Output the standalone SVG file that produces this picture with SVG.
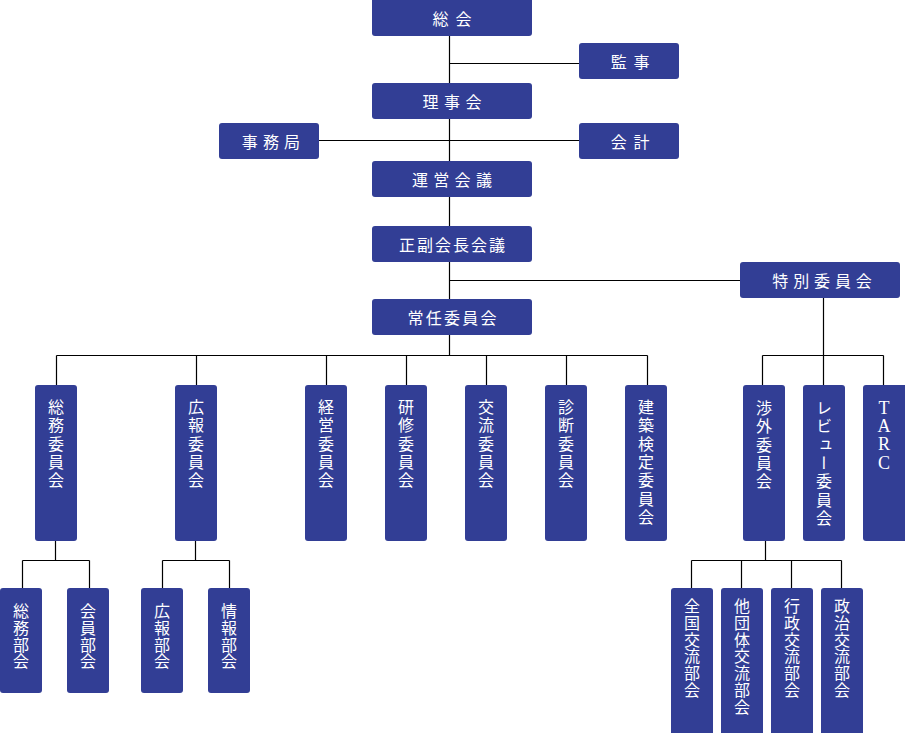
<svg xmlns="http://www.w3.org/2000/svg" width="905" height="733" viewBox="0 0 905 733">
<style>
.box{fill:#323e95}
.h{font-family:"Noto Sans CJK JP","Noto Sans",sans-serif;font-size:16px;fill:#fff;text-anchor:middle;dominant-baseline:central}
.v{font-family:"Noto Sans CJK JP","Noto Sans",sans-serif;font-size:16px;fill:#fff;writing-mode:vertical-rl;letter-spacing:2.3px}
.vs{font-family:"Noto Sans CJK JP","Noto Sans",sans-serif;font-size:16px;fill:#fff;writing-mode:vertical-rl;letter-spacing:0.8px}
.lat{font-family:"Liberation Serif",serif;font-size:18px;fill:#fff;text-anchor:middle}
.ln{fill:none;stroke:#000;stroke-width:1.2}
</style>
<g id="connectors">
<path class="ln" d="M449.5 36V355.5M449.5 63.5H579M319 140.5H579M449.5 280.5H740"/>
<path class="ln" d="M823.5 298V385M762.5 355.5H883.5M762.5 355.5V385M883.5 355.5V385"/>
<path class="ln" d="M56.5 355.5H647.5M56.5 355.5V385M196.5 355.5V385M326.5 355.5V385M406.5 355.5V385M486.5 355.5V385M566.5 355.5V385M647.5 355.5V385"/>
<path class="ln" d="M55.5 541V560.5M22.5 560.5H89.5M22.5 560.5V588M89.5 560.5V588"/>
<path class="ln" d="M195.5 541V560.5M162.5 560.5H229.5M162.5 560.5V588M229.5 560.5V588"/>
<path class="ln" d="M765.5 541V560.5M691.5 560.5H841.5M691.5 560.5V588M741.5 560.5V588M791.5 560.5V588M841.5 560.5V588"/>
</g>
<g id="n-soukai"><rect class="box" x="372" y="-3" width="160" height="39" rx="3"/><text class="h" x="455.5" y="17.5" letter-spacing="7">総会</text></g>
<g id="n-kanji"><rect class="box" x="579" y="43" width="100" height="36" rx="3"/><text class="h" x="633.5" y="61" letter-spacing="6.7">監事</text></g>
<g id="n-rijikai"><rect class="box" x="372" y="83" width="160" height="36" rx="3"/><text class="h" x="454.7" y="101" letter-spacing="5.5">理事会</text></g>
<g id="n-jimukyoku"><rect class="box" x="219" y="123" width="100" height="36" rx="3"/><text class="h" x="273.5" y="141" letter-spacing="5.2">事務局</text></g>
<g id="n-kaikei"><rect class="box" x="579" y="123" width="100" height="36" rx="3"/><text class="h" x="633.5" y="141" letter-spacing="6.7">会計</text></g>
<g id="n-uneikaigi"><rect class="box" x="372" y="161" width="160" height="36" rx="3"/><text class="h" x="454.6" y="179" letter-spacing="5.3">運営会議</text></g>
<g id="n-seifuku"><rect class="box" x="372" y="226" width="160" height="36" rx="3"/><text class="h" x="453" y="244" letter-spacing="2">正副会長会議</text></g>
<g id="n-tokubetsu"><rect class="box" x="740" y="262" width="160" height="36" rx="3"/><text class="h" x="824.5" y="280" letter-spacing="4.9">特別委員会</text></g>
<g id="n-jonin"><rect class="box" x="372" y="299" width="160" height="36" rx="3"/><text class="h" x="453.1" y="317" letter-spacing="2.2">常任委員会</text></g>
<g id="n-soumu"><rect class="box" x="35" y="385" width="42" height="156" rx="3"/><text class="v" x="56" y="399">総務委員会</text></g>
<g id="n-kouhou"><rect class="box" x="175" y="385" width="42" height="156" rx="3"/><text class="v" x="196" y="399">広報委員会</text></g>
<g id="n-keiei"><rect class="box" x="305" y="385" width="42" height="156" rx="3"/><text class="v" x="326" y="399">経営委員会</text></g>
<g id="n-kenshu"><rect class="box" x="385" y="385" width="42" height="156" rx="3"/><text class="v" x="406" y="399">研修委員会</text></g>
<g id="n-kouryu"><rect class="box" x="465" y="385" width="42" height="156" rx="3"/><text class="v" x="486" y="399">交流委員会</text></g>
<g id="n-shindan"><rect class="box" x="545" y="385" width="42" height="156" rx="3"/><text class="v" x="566" y="399">診断委員会</text></g>
<g id="n-kenchiku"><rect class="box" x="625" y="385" width="42" height="156" rx="3"/><text class="v" x="646" y="399" letter-spacing="2">建築検定委員会</text></g>
<g id="n-shougai"><rect class="box" x="743" y="385" width="42" height="156" rx="3"/><text class="v" x="764" y="400">渉外委員会</text></g>
<g id="n-review"><rect class="box" x="803" y="385" width="42" height="156" rx="3"/><text class="v" x="824" y="400" letter-spacing="2">レビュー委員会</text></g>
<g id="n-tarc"><rect class="box" x="863" y="385" width="45" height="156" rx="3"/><text class="lat"><tspan x="884" y="413.7">T</tspan><tspan x="884" y="432">A</tspan><tspan x="884" y="450.3">R</tspan><tspan x="884" y="468.6">C</tspan></text></g>
<g id="n-soumubu"><rect class="box" x="0" y="588" width="42" height="105" rx="3"/><text class="vs" x="21" y="603">総務部会</text></g>
<g id="n-kaiinbu"><rect class="box" x="67" y="588" width="42" height="105" rx="3"/><text class="vs" x="88" y="603">会員部会</text></g>
<g id="n-kouhoubu"><rect class="box" x="141" y="588" width="42" height="105" rx="3"/><text class="vs" x="162" y="603">広報部会</text></g>
<g id="n-jouhoubu"><rect class="box" x="208" y="588" width="42" height="105" rx="3"/><text class="vs" x="229" y="603">情報部会</text></g>
<g id="n-zenkoku"><rect class="box" x="671" y="588" width="42" height="148" rx="3"/><text class="vs" x="692" y="598">全国交流部会</text></g>
<g id="n-tadantai"><rect class="box" x="721" y="588" width="42" height="148" rx="3"/><text class="vs" x="742" y="598">他団体交流部会</text></g>
<g id="n-gyousei"><rect class="box" x="771" y="588" width="42" height="148" rx="3"/><text class="vs" x="792" y="598">行政交流部会</text></g>
<g id="n-seiji"><rect class="box" x="821" y="588" width="42" height="148" rx="3"/><text class="vs" x="842" y="598">政治交流部会</text></g>
</svg>
